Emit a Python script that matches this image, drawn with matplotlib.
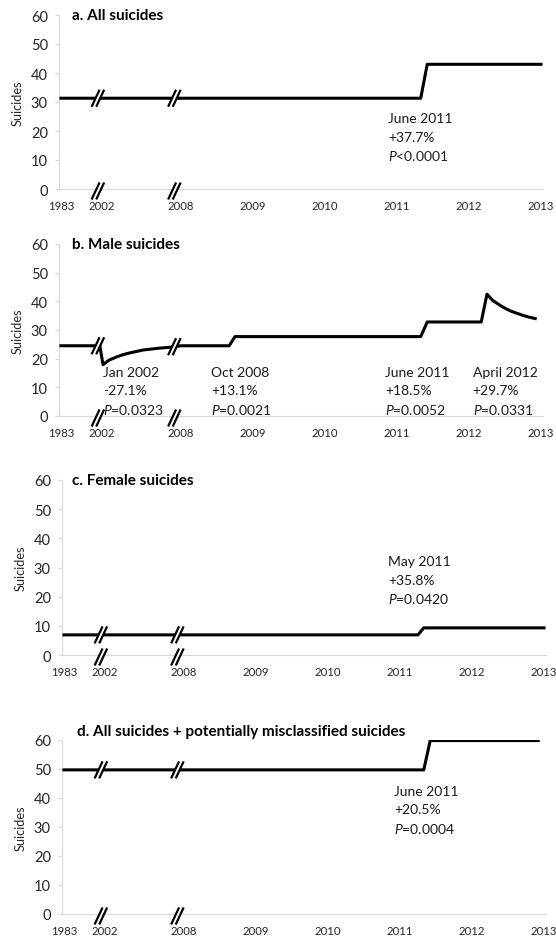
import numpy as np
import matplotlib.pyplot as plt
import matplotlib.transforms as mtransforms

plt.rcParams['font.family'] = ['Lato', 'DejaVu Sans']
plt.rcParams['mathtext.fontset'] = 'custom'
plt.rcParams['mathtext.rm'] = 'Lato'
plt.rcParams['mathtext.it'] = 'Lato:italic'

# time axis is squeezed before 2008 (1983-2001 and 2002-2007), one unit per year after
knot_years = [1983, 2002, 2008, 2014]
knot_pos = [2006.333, 2006.903, 2008, 2014]
break_years = [2000.1, 2007.5]

tick_years = [1983, 2002, 2008, 2009, 2010, 2011, 2012, 2013]
tick_labels = ['1983', '2002', '2008', '2009', '2010', '2011', '2012', '2013']

# a. all suicides
all_years = [1983, 2011.33, 2011.42, 2013.0]
all_vals = [31.3, 31.3, 43.0, 43.0]

# b. male suicides
male_years = [1983, 2001.0, 2002.08, 2002.5, 2003.1, 2003.6, 2004.1, 2005.1, 2006.2, 2007.2,
              2008.0, 2008.67, 2008.75, 2011.33, 2011.42, 2012.17,
              2012.25, 2012.33, 2012.42, 2012.5, 2012.58, 2012.67, 2012.75, 2012.83, 2012.92]
male_vals = [24.5, 24.5, 17.9, 19.4, 20.6, 21.4, 22.0, 23.0, 23.6, 24.0,
             24.5, 24.5, 27.7, 27.7, 32.8, 32.8,
             42.5, 40.3, 38.8, 37.6, 36.6, 35.8, 35.1, 34.5, 34.0]

# c. female suicides
female_years = [1983, 2011.25, 2011.33, 2013.0]
female_vals = [6.9, 6.9, 9.3, 9.3]

# d. all suicides + potentially misclassified
misc_years = [1983, 2011.33, 2011.42, 2012.92]
misc_vals = [49.7, 49.7, 59.8, 59.8]

# change-point notes: (x in years, y of first line, lines)
notes_a = [(2010.875, 24.5, ['June 2011', '+37.7%', r'$\mathit{P}$<0.0001'])]
notes_b = [(2002.08, 15.3, ['Jan 2002', '-27.1%', r'$\mathit{P}$=0.0323']),
           (2008.417, 15.3, ['Oct 2008', '+13.1%', r'$\mathit{P}$=0.0021']),
           (2010.833, 15.3, ['June 2011', '+18.5%', r'$\mathit{P}$=0.0052']),
           (2012.05, 15.3, ['April 2012', '+29.7%', r'$\mathit{P}$=0.0331'])]
notes_c = [(2010.84, 32.2, ['May 2011', '+35.8%', r'$\mathit{P}$=0.0420'])]
notes_d = [(2010.92, 42.5, ['June 2011', '+20.5%', r'$\mathit{P}$=0.0004'])]

W, H = 556, 945
fig = plt.figure(figsize=(W / 100, H / 100), dpi=100)


def to_pos(years):
    return np.interp(years, knot_years, knot_pos)


def draw_break(ax, x, y, dy=0.0):
    tr = fig.dpi_scale_trans + mtransforms.ScaledTranslation(x, y, ax.transData)
    ax.plot([-0.035, 0.035], [dy - 0.075, dy + 0.075], color='white', lw=3.2,
            transform=tr, clip_on=False, solid_capstyle='butt', zorder=5)
    for off in (-0.023, 0.023):
        ax.plot([off - 0.035, off + 0.035], [dy - 0.075, dy + 0.075], color='black',
                lw=1.6, transform=tr, clip_on=False, zorder=6)


def panel(box, years, vals, title, title_xy, notes):
    left, top, right, bottom = box
    ax = fig.add_axes([left / W, 1 - bottom / H, (right - left) / W, (bottom - top) / H])
    xs = to_pos(years)
    ax.plot(xs, vals, color='black', lw=2.2, zorder=4)
    ax.set_xlim(2006.306, 2013.028)
    ax.set_ylim(0, 60)
    ax.set_yticks(range(0, 61, 10))
    ax.set_xticks(to_pos(tick_years))
    ax.set_xticklabels(tick_labels)
    for s in ('top', 'right'):
        ax.spines[s].set_visible(False)
    for s in ('left', 'bottom'):
        ax.spines[s].set_color('#d9d9d9')
        ax.spines[s].set_linewidth(0.9)
    ax.tick_params(axis='y', direction='out', length=3, width=0.9, color='#d9d9d9',
                   labelsize=10.5, labelcolor='#262626', pad=5)
    ax.tick_params(axis='x', length=0, labelsize=8.2, labelcolor='#262626', pad=8)
    ax.set_ylabel('Suicides', fontsize=9.2, color='#262626')
    ax.yaxis.set_label_coords(-0.074, 0.5)
    ax.text(title_xy[0], title_xy[1], title, transform=ax.transAxes, fontsize=11,
            fontweight='bold', va='center', ha='left')
    for x, y0, lines in notes:
        for i, line in enumerate(lines):
            ax.text(to_pos(x), y0 - 6.4 * i, line, fontsize=10, color='#1a1a1a',
                    va='center', ha='left')
    for b in break_years:
        bx = to_pos(b)
        draw_break(ax, bx, float(np.interp(bx, xs, vals)))
        draw_break(ax, bx, 0, dy=-0.02)
    return ax


panel((59, 16, 543, 190), all_years, all_vals, 'a. All suicides', (0.027, 1.0), notes_a)
panel((59, 245, 543, 417), male_years, male_vals, 'b. Male suicides', (0.027, 1.0), notes_b)
panel((62, 481, 546, 656), female_years, female_vals, 'c. Female suicides', (0.02, 1.0), notes_c)
panel((62, 741, 546, 915), misc_years, misc_vals,
      'd. All suicides + potentially misclassified suicides', (0.031, 1.052), notes_d)

fig.savefig('out.png', dpi=100)
